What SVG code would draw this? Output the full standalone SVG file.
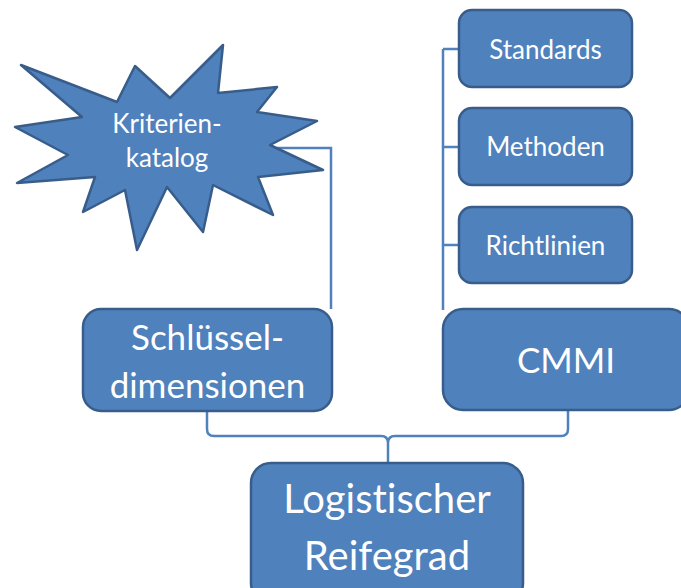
<svg xmlns="http://www.w3.org/2000/svg" width="681" height="588" viewBox="0 0 681 588">
  <style>
    .shape { fill: #4F81BD; stroke: #385D8A; stroke-width: 2.5; stroke-linejoin: round; }
    .link { fill: none; stroke: #4F81BD; stroke-width: 2.5; }
    text { font-family: "Lato", "Open Sans", sans-serif; fill: #FFFFFF; text-anchor: middle; font-variant-ligatures: none; font-feature-settings: "liga" 0, "clig" 0; }
    .s { font-size: 26px; }
    .m { font-size: 35px; }
    .l { font-size: 40px; }
  </style>
  <rect width="681" height="588" fill="#FFFFFF"/>

  <g id="connectors">
    <path class="link" d="M277,148 H331 V309"/>
    <path class="link" d="M443,49 V310 M443,49 H459 M443,147 H459 M443,245 H459"/>
    <path class="link" d="M207,411 V429 Q207,436 214,436 H381 Q388,436 388,443 V463 M568,411 V429 Q568,436 561,436 H395 Q388,436 388,443"/>
  </g>

  <g id="kriterienkatalog">
    <polygon class="shape" points="21,65 117,102 135,66 170,98 223,45 218,93 277,87 257,112 317,121 270,145 323,170 258,177 273,215 213,185 203,232 167,187 137,250 125,190 83,212 95,177 17,183 68,155 15,127 82,117"/>
    <text class="s" x="167" y="133">Kriterien-</text>
    <text class="s" x="167" y="167">katalog</text>
  </g>

  <g id="standards">
    <rect class="shape" x="459" y="10" width="173" height="77" rx="13"/>
    <text class="s" x="545.5" y="59">Standards</text>
  </g>

  <g id="methoden">
    <rect class="shape" x="459" y="108" width="173" height="77" rx="13"/>
    <text class="s" x="545.5" y="156">Methoden</text>
  </g>

  <g id="richtlinien">
    <rect class="shape" x="459" y="207" width="173" height="76" rx="13"/>
    <text class="s" x="545.5" y="255">Richtlinien</text>
  </g>

  <g id="cmmi">
    <rect class="shape" x="443" y="309" width="246" height="101" rx="20"/>
    <text class="m" x="566" y="373">CMMI</text>
  </g>

  <g id="schluesseldimensionen">
    <rect class="shape" x="83" y="309" width="249" height="102" rx="18"/>
    <text class="m" x="207.5" y="350">Schlüssel-</text>
    <text class="m" x="207.5" y="398">dimensionen</text>
  </g>

  <g id="logistischer-reifegrad">
    <rect class="shape" x="251" y="463" width="272" height="140" rx="20"/>
    <text class="l" x="387" y="513">Logistischer</text>
    <text class="l" x="387" y="570">Reifegrad</text>
  </g>
</svg>
